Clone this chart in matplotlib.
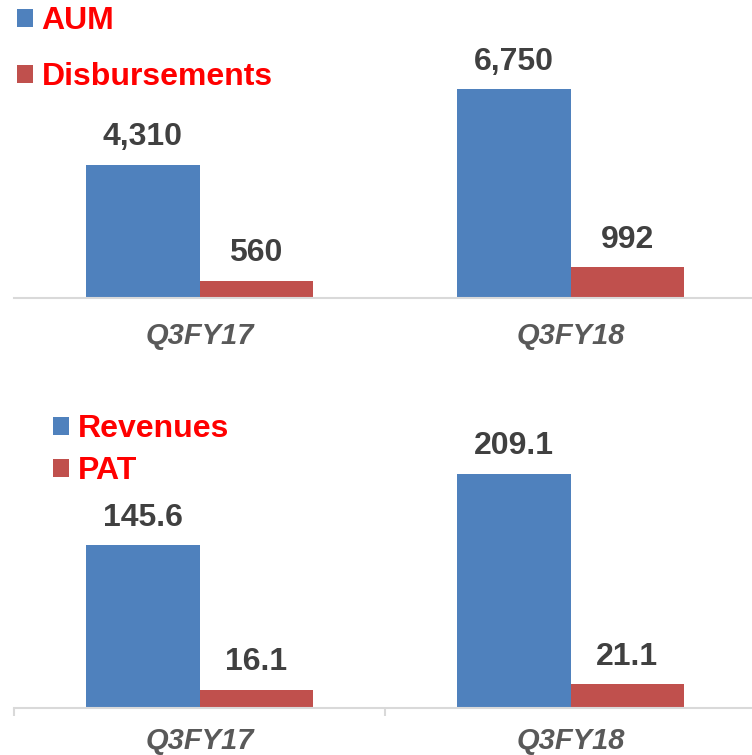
import matplotlib.pyplot as plt
import numpy as np

quarters = ["Q3FY17", "Q3FY18"]
aum = [4310, 6750]
disbursements = [560, 992]
revenues = [145.6, 209.1]
pat = [16.1, 21.1]

blue = "#4F81BD"
red = "#C0504D"

plt.rcParams["font.family"] = ["Liberation Sans", "DejaVu Sans"]

fig = plt.figure(figsize=(7.52, 7.55), dpi=100)
W, H = 752, 755

# axes placed in pixel terms: left 14, right 756
ax1 = fig.add_axes([14 / W, (H - 298) / H, 742 / W, 278 / H])
ax2 = fig.add_axes([14 / W, (H - 708) / H, 742 / W, 288 / H])

x = np.arange(len(quarters))
bw = 0.305


def draw(ax, s1, s2, n1, n2, ymax, fmt, minor_ticks, pad):
    b1 = ax.bar(x - bw / 2, s1, bw, color=blue, label=n1)
    b2 = ax.bar(x + bw / 2, s2, bw, color=red, label=n2)
    for bars, vals in ((b1, s1), (b2, s2)):
        for r, v in zip(bars, vals):
            ax.annotate(fmt(v), (r.get_x() + r.get_width() / 2, r.get_height()),
                        xytext=(0, 9), textcoords="offset points",
                        ha="center", va="bottom", fontsize=23,
                        fontweight="bold", color="#404040")
    ax.set_xlim(-0.5, 1.5)
    ax.set_ylim(0, ymax)
    for s in ("top", "right", "left"):
        ax.spines[s].set_visible(False)
    ax.spines["bottom"].set_color("#D9D9D9")
    ax.spines["bottom"].set_linewidth(1.5)
    ax.set_yticks([])
    ax.set_xticks(x)
    ax.set_xticklabels(quarters, fontsize=21, fontweight="bold",
                       fontstyle="italic", color="#595959")
    ax.tick_params(axis="x", which="major", length=0, pad=pad)
    if minor_ticks:
        ax.set_xticks([-0.5, 0.5, 1.5], minor=True)
        ax.tick_params(axis="x", which="minor", length=6, width=1.5,
                       color="#D9D9D9")
    return b1, b2


draw(ax1, aum, disbursements, "AUM", "Disbursements", 8993,
     lambda v: f"{v:,.0f}", False, 17)
draw(ax2, revenues, pat, "Revenues", "PAT", 257.3,
     lambda v: f"{v:.1f}", True, 14)

leg_kw = dict(frameon=False, labelcolor="red", handlelength=0.5,
              handleheight=0.5, handletextpad=0.27, borderpad=0,
              borderaxespad=0, prop={"size": 23, "weight": "bold"})
l1 = ax1.legend(loc="upper left", bbox_to_anchor=(17 / W, 1 - 6 / H),
                bbox_transform=fig.transFigure, labelspacing=0.82, **leg_kw)
l2 = ax2.legend(loc="upper left", bbox_to_anchor=(53 / W, 1 - 414 / H),
                bbox_transform=fig.transFigure, labelspacing=0.38, **leg_kw)

fig.savefig("out.png", dpi=100)
